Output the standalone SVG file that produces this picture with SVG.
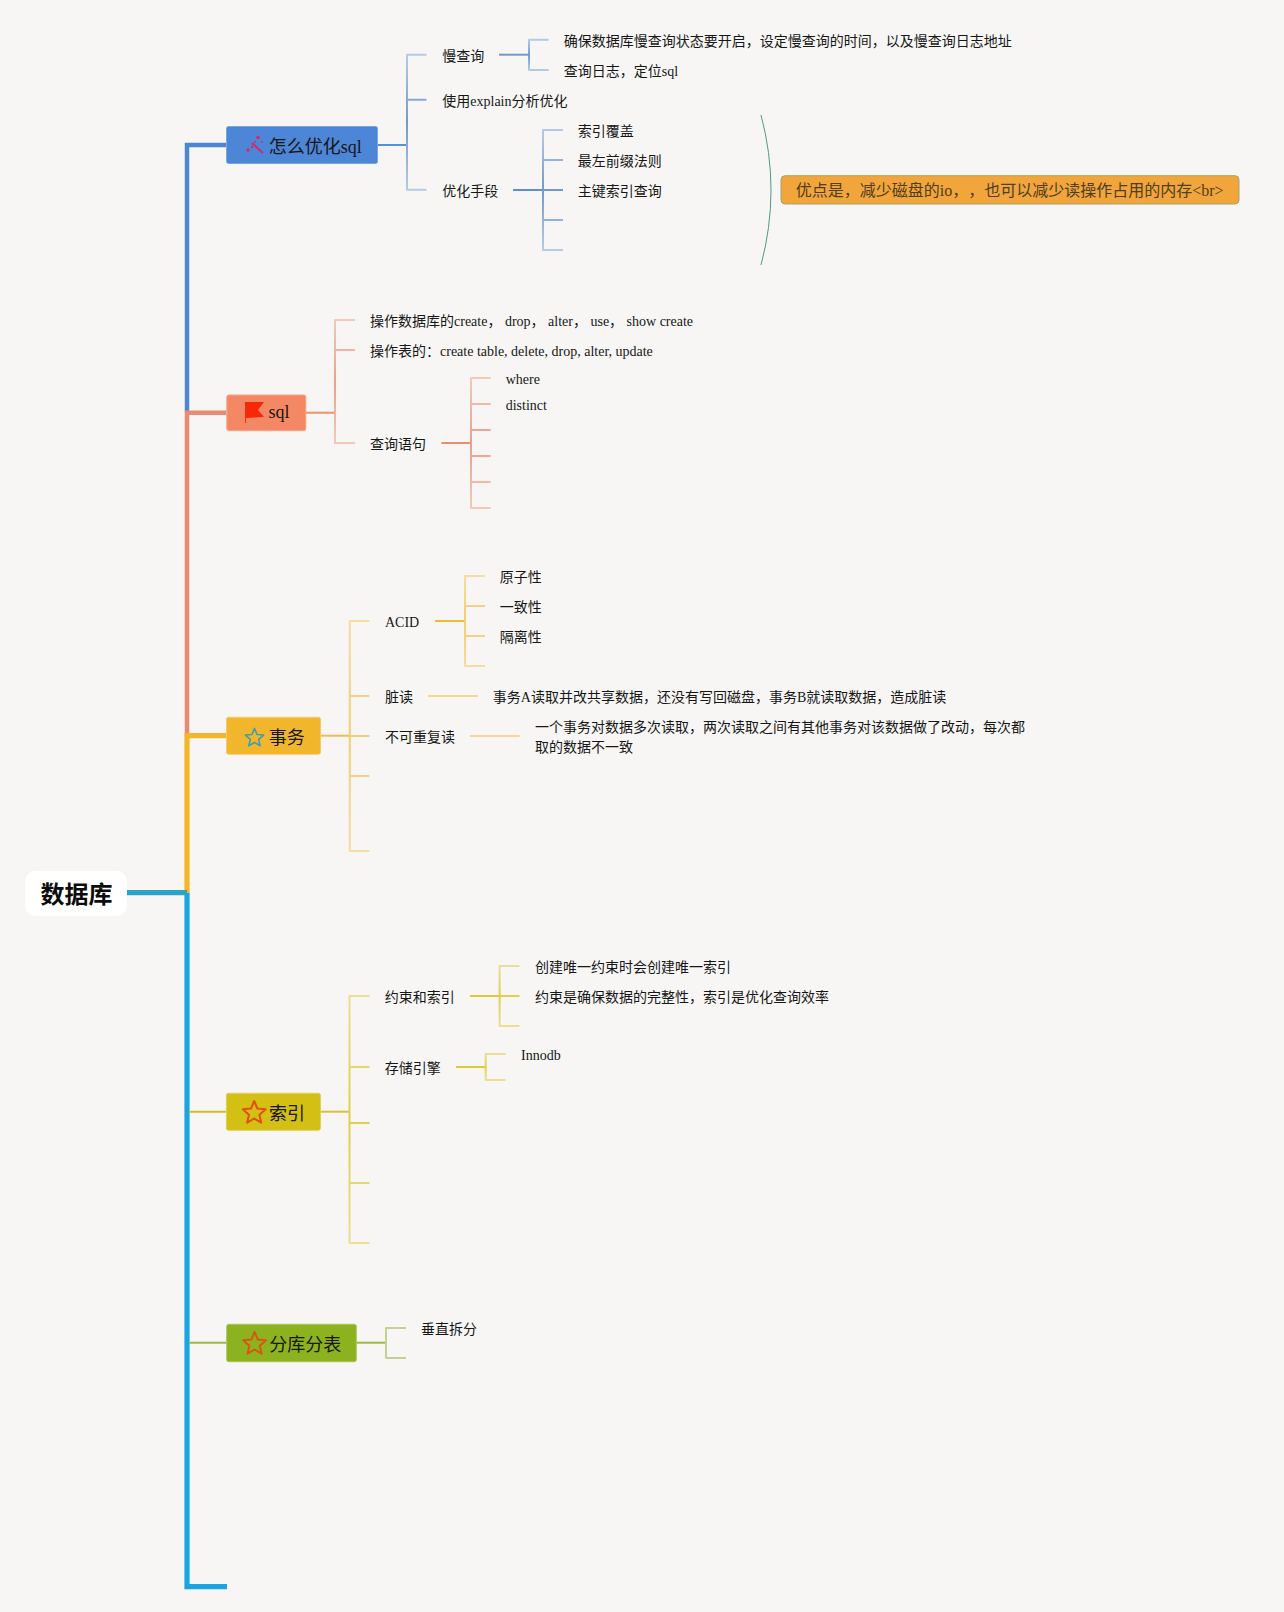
<svg xmlns="http://www.w3.org/2000/svg" width="1284" height="1612" viewBox="0 0 1284 1612">
<style>
text{font-family:"Liberation Serif","Noto Sans CJK SC",serif;fill:#161616;white-space:pre}
.t{font-size:14px}
.h{font-size:18px}
.r{font-size:24px;font-weight:700;font-family:"Noto Sans CJK SC","Liberation Sans",sans-serif;fill:#0c0c0c}
.n{stroke-width:1;rx:2px}
.l{fill:none}
.m{fill:none;stroke-width:4.5;stroke-linejoin:miter}
.w{fill:none;stroke-width:5.2;stroke-linejoin:miter}
.b{fill:none;stroke-width:2;stroke-linejoin:round}
.p{fill:none;stroke-width:2}
.star{stroke-width:2;stroke-linejoin:round;fill:none}
.note{font-size:16px;fill:#4e3d22;text-spacing-trim:space-all;font-feature-settings:"chws" 0}
</style>
<defs>
<linearGradient id="gb" x1="0" y1="0" x2="0" y2="1"><stop offset="0" stop-color="#b4cbe8"/><stop offset=".5" stop-color="#6d9ad6"/><stop offset="1" stop-color="#b4cbe8"/></linearGradient>
<linearGradient id="gc" x1="0" y1="0" x2="0" y2="1"><stop offset="0" stop-color="#f6c8b8"/><stop offset=".5" stop-color="#ef9f85"/><stop offset="1" stop-color="#f6c8b8"/></linearGradient>
<linearGradient id="gy" x1="0" y1="0" x2="0" y2="1"><stop offset="0" stop-color="#f5dca2"/><stop offset=".5" stop-color="#f2cd75"/><stop offset="1" stop-color="#f5dca2"/></linearGradient>
<linearGradient id="gi" x1="0" y1="0" x2="0" y2="1"><stop offset="0" stop-color="#eadf93"/><stop offset=".5" stop-color="#e0cf4a"/><stop offset="1" stop-color="#eadf93"/></linearGradient>
<path id="star" d="M0-12 3.2-4.45 11.4-3.7 5.2 1.7 7.05 9.7 0 5.5-7.05 9.7-5.2 1.7-11.4-3.7-3.2-4.45Z"/>
</defs>
<rect width="1284" height="1612" fill="#f7f6f5"/>
<g id="connectors">
<path class="m" stroke="#4f86d0" d="M226.500 145H187V412"/>
<path class="m" stroke="#ea8a72" d="M226.500 412.700H187V736"/>
<path class="w" stroke="#f2b62c" d="M226.500 735.700H187V893"/>
<path class="w" stroke="#1fa3e0" d="M187 893V1586.700H227"/>
<path class="w" stroke="#2ba4c8" d="M127 892.700H187"/>
<path class="p" stroke="#d4bf14" d="M189 1111.700H226.500"/>
<path class="p" stroke="#9cbb3c" d="M189 1342.700H226.500"/>

<path class="p" stroke="#5b8fd4" d="M377.500 145H407"/>
<path class="b" stroke="url(#gb)" d="M426.500 54.700H407V189.700H426.500M407 99.700H426.500"/>
<path class="p" stroke="#6d9ad6" d="M499 54.700H529"/>
<path class="b" stroke="url(#gb)" d="M548.600 39.700H529V70H548.600"/>
<path class="p" stroke="#5b8fd4" d="M513 190H543"/>
<path class="b" stroke="url(#gb)" d="M563 130H543V250H563M543 160H563M543 190H563M543 220H563"/>
<path class="l" d="M761 115Q781 190 761 265" stroke="#4f9a80" stroke-width="1"/>

<path class="p" stroke="#f0906f" d="M305.700 412.700H335"/>
<path class="b" stroke="url(#gc)" d="M355 320H335V443H355M335 350H355"/>
<path class="p" stroke="#ec8c6e" d="M441.400 443H471"/>
<path class="b" stroke="url(#gc)" d="M490.700 378H471V508H490.700M471 404H490.700M471 430H490.700M471 456H490.700M471 482H490.700"/>

<path class="p" stroke="#f0bd45" d="M320.400 735.700H349.800"/>
<path class="b" stroke="url(#gy)" d="M369.400 621H349.800V851H369.400M349.800 696H369.400M349.800 736H369.400M349.800 776H369.400"/>
<path class="p" stroke="#f0b93a" d="M435 621H465"/>
<path class="b" stroke="url(#gy)" d="M485 576H465V666H485M465 606H485M465 636H485"/>
<path class="p" stroke="#f5d890" d="M428 696H478"/>
<path class="p" stroke="#f5d890" d="M470 736H519.600"/>

<path class="p" stroke="#d8c52a" d="M320.500 1111.700H349.500"/>
<path class="b" stroke="url(#gi)" d="M369.500 996H349.500V1243H369.500M349.500 1067H369.500M349.500 1123H369.500M349.500 1183H369.500"/>
<path class="p" stroke="#dcc93c" d="M470 996H499.600"/>
<path class="b" stroke="url(#gi)" d="M519.500 966H499.600V1026H519.500M499.600 996H519.500"/>
<path class="p" stroke="#dcc93c" d="M456 1067H485.700"/>
<path class="b" stroke="url(#gi)" d="M505.600 1054H485.700V1080H505.600"/>

<path class="p" stroke="#9cbb3c" d="M356.300 1342.700H386"/>
<path class="b" stroke="#c3d291" d="M406 1328H386V1358H406"/>
</g>

<g id="root"><rect x="25" y="871" width="102" height="44.700" rx="10" fill="#fff"/><text class="r" x="40.500" y="903">数据库</text></g>

<g id="node-optimize">
<rect class="n" x="226.500" y="126.500" width="151" height="37" fill="#4d86d6" stroke="#7aa5e2"/>
<path class="l" d="M252 143 262.700 153" stroke="#d02a6a" stroke-width="2"/>
<circle cx="248" cy="150" r="1.700" fill="#d02a6a"/><circle cx="252" cy="147" r="1.200" fill="#d02a6a"/><circle cx="258" cy="137.500" r="1.700" fill="#d02a6a"/><circle cx="262" cy="142" r="1" fill="#d02a6a"/><circle cx="255" cy="142" r="1" fill="#d02a6a"/>
<text class="h" x="268.700" y="153">怎么优化sql</text>
</g>
<g id="n-slow"><text class="t" x="442.300" y="61">慢查询</text></g>
<g id="n-slow-1"><text class="t" x="563.800" y="46">确保数据库慢查询状态要开启，设定慢查询的时间，以及慢查询日志地址</text></g>
<g id="n-slow-2"><text class="t" x="563.800" y="76">查询日志，定位sql</text></g>
<g id="n-explain"><text class="t" x="442.300" y="106">使用explain分析优化</text></g>
<g id="n-means"><text class="t" x="442.300" y="196">优化手段</text></g>
<g id="n-means-1"><text class="t" x="577.700" y="136">索引覆盖</text></g>
<g id="n-means-2"><text class="t" x="577.700" y="166">最左前缀法则</text></g>
<g id="n-means-3"><text class="t" x="577.700" y="196">主键索引查询</text></g>
<g id="n-note">
<rect x="781" y="175.700" width="458" height="28.300" rx="4" fill="#f2a53a" stroke="#a3a76c"/>
<text class="note" x="795.800" y="195.500">优点是，减少磁盘的io，，也可以减少读操作占用的内存&lt;br&gt;</text>
</g>

<g id="node-sql">
<rect class="n" x="226.800" y="395" width="79" height="35.700" fill="#f58864" stroke="#f8a283"/>
<path d="M245 402H264L258 410 264 417 246 418V423H245Z" fill="#f5280a"/>
<text class="h" x="268.500" y="417.500">sql</text>
</g>
<g id="n-sql-1"><text class="t" x="370" y="326">操作数据库的create， drop， alter， use， show create</text></g>
<g id="n-sql-2"><text class="t" x="370" y="356">操作表的：create table, delete, drop, alter, update</text></g>
<g id="n-query"><text class="t" x="370" y="449">查询语句</text></g>
<g id="n-where"><text class="t" x="505.700" y="384">where</text></g>
<g id="n-distinct"><text class="t" x="505.700" y="410">distinct</text></g>

<g id="node-tx">
<rect class="n" x="226.500" y="717.300" width="94" height="37" fill="#f2b62c" stroke="#f6cb66"/>
<use href="#star" class="star" transform="translate(254.500 738) scale(.8)" stroke="#3f9db0"/>
<text class="h" x="268.700" y="744">事务</text>
</g>
<g id="n-acid"><text class="t" x="385" y="627">ACID</text></g>
<g id="n-acid-1"><text class="t" x="499.700" y="582">原子性</text></g>
<g id="n-acid-2"><text class="t" x="499.700" y="612">一致性</text></g>
<g id="n-acid-3"><text class="t" x="499.700" y="642">隔离性</text></g>
<g id="n-dirty"><text class="t" x="385" y="702">脏读</text></g>
<g id="n-dirty-1"><text class="t" x="492.800" y="702">事务A读取并改共享数据，还没有写回磁盘，事务B就读取数据，造成脏读</text></g>
<g id="n-nonrep"><text class="t" x="385" y="742">不可重复读</text></g>
<g id="n-nonrep-1"><text class="t" x="535" y="732">一个事务对数据多次读取，两次读取之间有其他事务对该数据做了改动，每次都</text><text class="t" x="535" y="752">取的数据不一致</text></g>

<g id="node-index">
<rect class="n" x="226.400" y="1093.300" width="94" height="37" fill="#d4bf14" stroke="#dfd04f"/>
<use href="#star" class="star" transform="translate(254.200 1113)" stroke="#e0500f"/>
<text class="h" x="269" y="1120">索引</text>
</g>
<g id="n-constraint"><text class="t" x="384.800" y="1002">约束和索引</text></g>
<g id="n-constraint-1"><text class="t" x="535" y="972">创建唯一约束时会创建唯一索引</text></g>
<g id="n-constraint-2"><text class="t" x="535" y="1002">约束是确保数据的完整性，索引是优化查询效率</text></g>
<g id="n-engine"><text class="t" x="384.800" y="1073">存储引擎</text></g>
<g id="n-innodb"><text class="t" x="521" y="1060">Innodb</text></g>

<g id="node-shard">
<rect class="n" x="226.700" y="1324.300" width="129.600" height="37.400" fill="#8cb31f" stroke="#a7c655"/>
<use href="#star" class="star" transform="translate(254.600 1344)" stroke="#d9560f"/>
<text class="h" x="269.300" y="1351">分库分表</text>
</g>
<g id="n-vertical"><text class="t" x="421" y="1334">垂直拆分</text></g>
</svg>
